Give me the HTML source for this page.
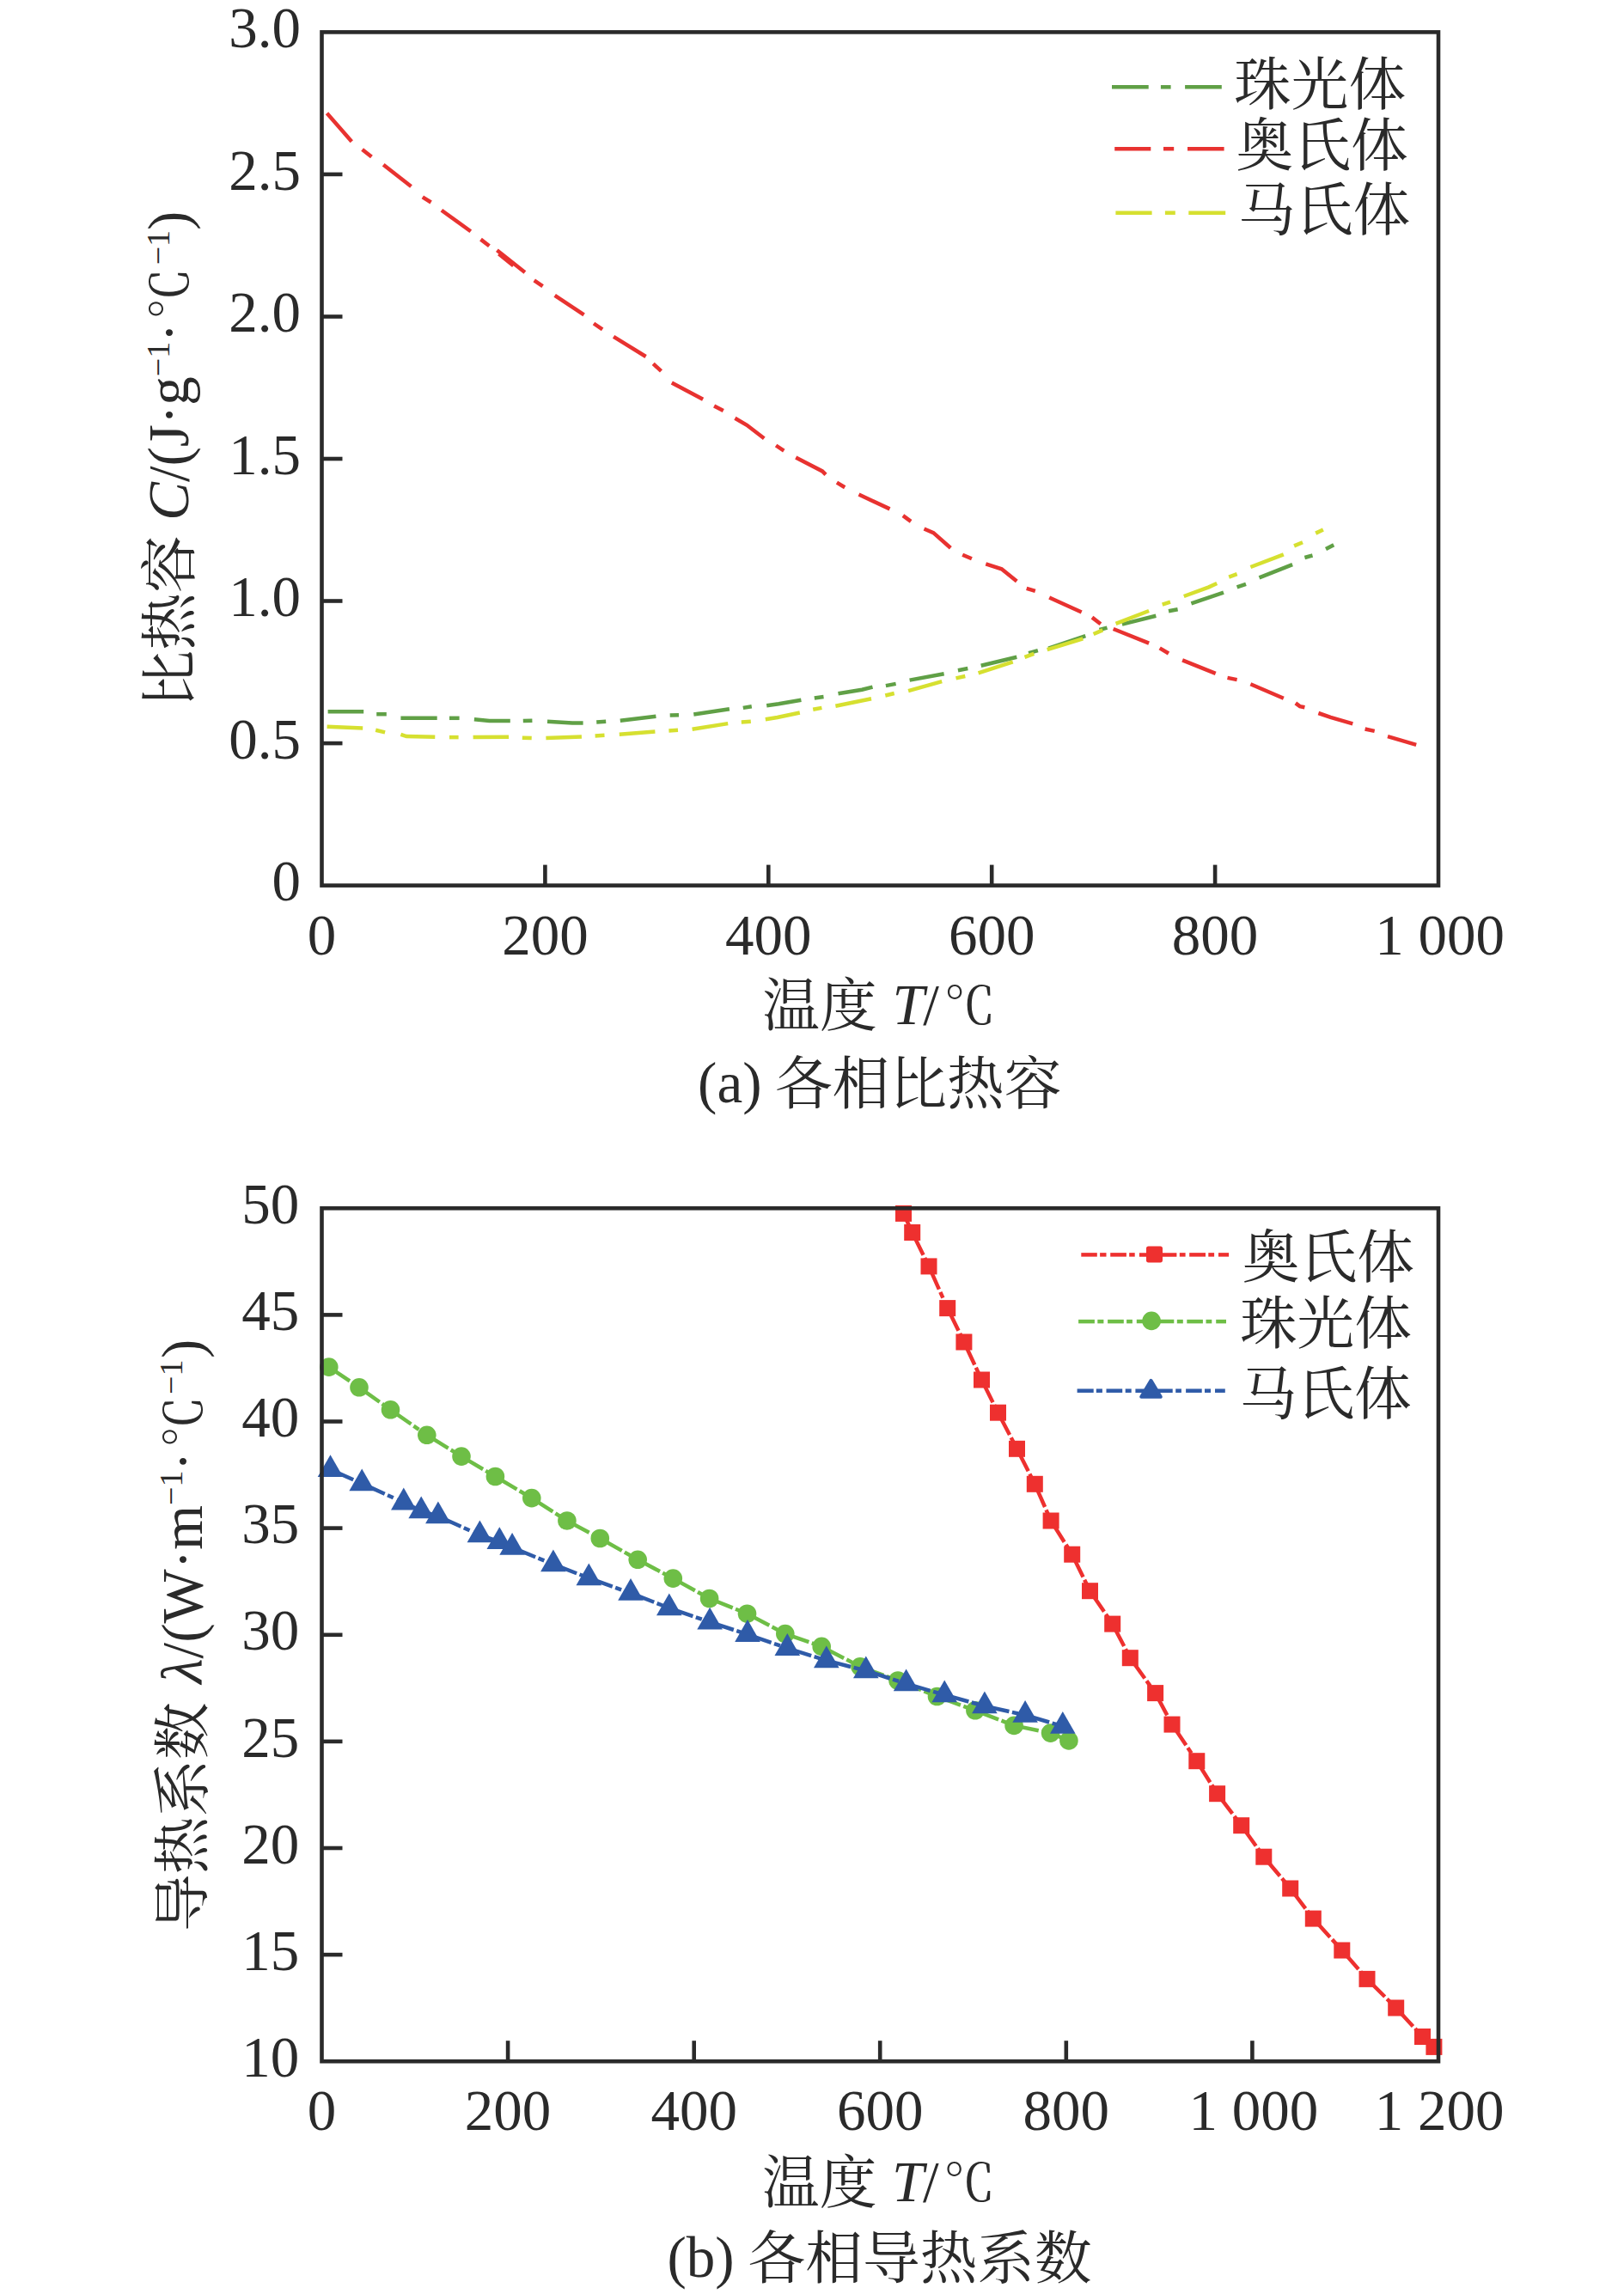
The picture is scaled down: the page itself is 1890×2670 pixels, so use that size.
<!DOCTYPE html>
<html lang="zh"><head><meta charset="utf-8"><title>各相比热容与导热系数</title>
<style>
html,body{margin:0;padding:0;background:#fff;}
svg{display:block;}
text{font-family:"Liberation Serif","Noto Serif CJK SC",serif;fill:#2a2a2a;}
.n{font-size:67px;}
.c{font-family:"Liberation Serif","Noto Serif CJK SC",serif;font-weight:400;}
.i{font-style:italic;}
.s{font-size:38px;}
.c{font-size:66.7px;}
.c.d{font-size:60px;}
.ax{stroke:#2a2a2a;stroke-width:4.6;fill:none;}
.l1{stroke-width:4.5;fill:none;stroke-linecap:butt;stroke-linejoin:miter;}
.l2{stroke-width:4.5;fill:none;stroke-linecap:butt;stroke-dasharray:29.2 3.6 7.4 4.7 18.6 3.3;}
.lg{stroke-width:4.5;fill:none;}
</style></head><body>
<svg width="1890" height="2670" viewBox="0 0 1890 2670">
<rect x="0" y="0" width="1890" height="2670" fill="#fff"/>
<g id="plot-a">
<g class="l1" stroke="#60a046">
<polyline points="381.6,828.2 423.2,828.2"/>
<polyline points="438.2,831.2 449.8,831.2"/>
<polyline points="466.4,835.8 508.7,835.8"/>
<polyline points="523,835.8 534.6,835.8"/>
<polyline points="551.9,837.2 569.5,839.1 593.8,839.1"/>
<polyline points="608.8,839.1 619.4,838.8"/>
<polyline points="637,839.8 666,841.5 678.6,841.5"/>
<polyline points="694.2,840.5 705.2,839.8"/>
<polyline points="721.8,838.8 763.4,833.8"/>
<polyline points="779.7,832.5 790,832.2"/>
<polyline points="807.3,831.5 848.9,825.2"/>
<polyline points="864.8,823.9 874.8,822.2"/>
<polyline points="892.2,821.3 906.2,819.3 932.4,814.7"/>
<polyline points="947.8,812.5 958.5,811"/>
<polyline points="975.5,807.3 1003.2,802.7 1015.5,799.6"/>
<polyline points="1030.9,798.1 1042.6,795.9"/>
<polyline points="1058.6,791.6 1098.6,784.2"/>
<polyline points="1114.9,780.2 1126.3,778"/>
<polyline points="1141.7,774.7 1183.3,764.8"/>
<polyline points="1197.1,760.2 1207.9,757.1"/>
<polyline points="1220.2,754.7 1263.3,740.2"/>
<polyline points="1279.5,733 1288.5,730.6"/>
<polyline points="1305.9,726.6 1345.3,716.7"/>
<polyline points="1360,711.3 1370.6,709.3"/>
<polyline points="1386.4,702.4 1424,689.6"/>
<polyline points="1439.6,683.4 1450,679.8"/>
<polyline points="1465.5,672.4 1504.1,657.1"/>
<polyline points="1518.4,649 1527.5,646.5"/>
<polyline points="1543,639.1 1552.2,634.2"/>
</g>
<g class="l1" stroke="#e83230">
<polyline points="380.5,131.8 409.3,164.7"/>
<polyline points="421.6,173.9 432.4,182.5"/>
<polyline points="446.2,191.7 478.5,217"/>
<polyline points="491.8,229.3 501.6,235.5"/>
<polyline points="513.9,244.7 547.8,269.3"/>
<polyline points="559.5,278.6 569.4,286.3"/>
<polyline points="578.4,291.3 610.9,317"/>
<polyline points="580.5,295.5 597.5,309.3"/>
<polyline points="621.7,326.3 631.6,333.1"/>
<polyline points="645.7,343.8 679.6,366.3"/>
<polyline points="691,376.5 701.1,383.3"/>
<polyline points="714.1,391.9 751.6,415"/>
<polyline points="760.2,423.3 769.5,431.9"/>
<polyline points="781.8,445.4 818.1,464.8"/>
<polyline points="831.1,472.5 841.8,478.1"/>
<polyline points="855.4,486.8 869.2,494.8 889.3,510.2"/>
<polyline points="903.1,518.5 912.3,524.7"/>
<polyline points="926.2,532.4 957,548.4 961,552.4"/>
<polyline points="973.9,561.6 983.2,567.2"/>
<polyline points="999.5,575.5 1035.5,592.4"/>
<polyline points="1050.9,600.1 1060.1,606.9"/>
<polyline points="1075.5,615.5 1086.3,620.1 1106.3,637.7"/>
<polyline points="1120.2,645.7 1130.9,650.3"/>
<polyline points="1147.3,656.4 1165.7,662.3 1183.3,676.5"/>
<polyline points="1194.7,684.8 1204.8,687.8"/>
<polyline points="1221.2,695.5 1258.7,712.5"/>
<polyline points="1271,718.6 1280.9,726.3"/>
<polyline points="1295.7,732 1337.1,748.7"/>
<polyline points="1349.7,754.4 1360,760.5"/>
<polyline points="1376.1,768.4 1414.7,783.9"/>
<polyline points="1428.5,788.9 1439.6,791.1"/>
<polyline points="1455.4,796.3 1493.8,812.8"/>
<polyline points="1507.8,818.4 1512.8,822.1 1518.4,823.3"/>
<polyline points="1534.4,830 1548.5,834.9 1574.3,842.3"/>
<polyline points="1588.6,848.5 1599.7,850.9"/>
<polyline points="1615,857.1 1648.2,866.9"/>
</g>
<g class="l1" stroke="#d6e030">
<polyline points="380.6,845.8 422.2,847.5"/>
<polyline points="437.2,849.8 448.1,852.4"/>
<polyline points="466.4,854.8 473.1,857.1 506.3,857.8"/>
<polyline points="523,858.1 533.6,858.1"/>
<polyline points="550.6,858.1 592.1,857.8"/>
<polyline points="607.8,858.8 618.7,859.1"/>
<polyline points="635.4,859.1 676.9,857.4"/>
<polyline points="692.6,856.4 703.5,855.8"/>
<polyline points="720.8,854.8 762.4,851.5"/>
<polyline points="778.4,850.5 789,849.8"/>
<polyline points="805.6,848.8 847.2,842.1"/>
<polyline points="862.8,840.5 873.8,839.8"/>
<polyline points="890.8,837.2 904.7,835 930.8,829.5"/>
<polyline points="946.2,825.8 956.4,823.9"/>
<polyline points="972.4,821.8 1014,813.2"/>
<polyline points="1030.3,809.5 1040.7,807"/>
<polyline points="1057.1,804.2 1096.2,793.1"/>
<polyline points="1112.5,789.4 1123.3,787"/>
<polyline points="1138.6,783.3 1178.7,770.4"/>
<polyline points="1192.5,764.8 1203.3,760.8"/>
<polyline points="1218.7,756.2 1260.3,743.3"/>
<polyline points="1272.6,738 1283.3,733.4"/>
<polyline points="1298.6,725.8 1337.1,711"/>
<polyline points="1352.7,703.6 1362,700.7"/>
<polyline points="1377.8,694 1406.8,683.4 1416.2,679"/>
<polyline points="1430.2,671.6 1439.6,668.2"/>
<polyline points="1455.4,660 1493.8,645.3"/>
<polyline points="1506.1,635.4 1516,631.2"/>
<polyline points="1531.2,620.6 1539.9,616.5"/>
</g>
<g class="l1" stroke="#60a046">
<line x1="1294" y1="101.3" x2="1336.7" y2="101.3"/>
<line x1="1350.9" y1="101.3" x2="1362.6" y2="101.3"/>
<line x1="1379.1" y1="101.3" x2="1421.8" y2="101.3"/>
</g>
<text class="n c" x="1436" y="121.9">珠光体</text>
<g class="l1" stroke="#e83230">
<line x1="1297.2" y1="173.2" x2="1339.3" y2="173.2"/>
<line x1="1354" y1="173.2" x2="1366.2" y2="173.2"/>
<line x1="1382" y1="173.2" x2="1424.6" y2="173.2"/>
</g>
<text class="n c" x="1438.5" y="193.4">奥氏体</text>
<g class="l1" stroke="#d6e030">
<line x1="1298.4" y1="247.7" x2="1340.6" y2="247.7"/>
<line x1="1355.9" y1="247.7" x2="1367.8" y2="247.7"/>
<line x1="1383.3" y1="247.7" x2="1426.2" y2="247.7"/>
</g>
<text class="n c" x="1441" y="268">马氏体</text>
<rect class="ax" x="374.5" y="37.4" width="1299.5" height="993.2"/>
<text class="n" text-anchor="end" x="350" y="55">3.0</text>
<line class="ax" x1="374.5" y1="202.9" x2="398.5" y2="202.9"/>
<text class="n" text-anchor="end" x="350" y="220.5">2.5</text>
<line class="ax" x1="374.5" y1="368.5" x2="398.5" y2="368.5"/>
<text class="n" text-anchor="end" x="350" y="386.1">2.0</text>
<line class="ax" x1="374.5" y1="534" x2="398.5" y2="534"/>
<text class="n" text-anchor="end" x="350" y="551.6">1.5</text>
<line class="ax" x1="374.5" y1="699.5" x2="398.5" y2="699.5"/>
<text class="n" text-anchor="end" x="350" y="717.1">1.0</text>
<line class="ax" x1="374.5" y1="865.1" x2="398.5" y2="865.1"/>
<text class="n" text-anchor="end" x="350" y="882.7">0.5</text>
<text class="n" text-anchor="end" x="350" y="1048.2">0</text>
<text class="n" text-anchor="middle" x="374.5" y="1110.7" style="word-spacing:0px">0</text>
<line class="ax" x1="634.4" y1="1030.6" x2="634.4" y2="1006.6"/>
<text class="n" text-anchor="middle" x="634.4" y="1110.7" style="word-spacing:0px">200</text>
<line class="ax" x1="894.3" y1="1030.6" x2="894.3" y2="1006.6"/>
<text class="n" text-anchor="middle" x="894.3" y="1110.7" style="word-spacing:0px">400</text>
<line class="ax" x1="1154.2" y1="1030.6" x2="1154.2" y2="1006.6"/>
<text class="n" text-anchor="middle" x="1154.2" y="1110.7" style="word-spacing:0px">600</text>
<line class="ax" x1="1414.1" y1="1030.6" x2="1414.1" y2="1006.6"/>
<text class="n" text-anchor="middle" x="1414.1" y="1110.7" style="word-spacing:0px">800</text>
<text class="n" text-anchor="middle" x="1675.5" y="1110.7" style="word-spacing:0px">1 000</text>
<text class="n" y="1192"><tspan class="c" x="887.3" y="1193.8">温度</tspan><tspan class="i" x="1038.4" y="1192">T</tspan><tspan x="1074.2">/</tspan><tspan class="c d" x="1098.4">℃</tspan></text>
<text class="n" x="812.1" y="1283.2">(a)<tspan class="c" x="901.9" y="1285">各相比热容</tspan></text>
<text class="n" transform="translate(219.3,823.5) rotate(-90)"><tspan class="c" x="0" y="1.8">比热容</tspan><tspan class="i" x="217.7" y="0">C</tspan>/(J·g<tspan class="s" dy="-22.4">−1</tspan><tspan x="425.3" dy="22.4">·</tspan><tspan class="c d" x="451.4">℃</tspan><tspan class="s" x="515.2" dy="-22.4">−1</tspan><tspan x="555.5" dy="22.4">)</tspan></text>
</g>
<g id="plot-b">
<g class="l2" stroke="#6ebe46">
<line x1="382.8" y1="1591.1" x2="418" y2="1614.8"/>
<line x1="418" y1="1614.8" x2="454.5" y2="1640.8"/>
<line x1="454.5" y1="1640.8" x2="496.8" y2="1670.3"/>
<line x1="496.8" y1="1670.3" x2="537" y2="1695.1"/>
<line x1="537" y1="1695.1" x2="576.4" y2="1718.5"/>
<line x1="576.4" y1="1718.5" x2="618.8" y2="1743.6"/>
<line x1="618.8" y1="1743.6" x2="659.9" y2="1770"/>
<line x1="659.9" y1="1770" x2="698.3" y2="1790.5"/>
<line x1="698.3" y1="1790.5" x2="742.2" y2="1815.3"/>
<line x1="742.2" y1="1815.3" x2="783.3" y2="1837.1"/>
<line x1="783.3" y1="1837.1" x2="825.6" y2="1860.5"/>
<line x1="825.6" y1="1860.5" x2="869.5" y2="1878.2"/>
<line x1="869.5" y1="1878.2" x2="913.8" y2="1901.6"/>
<line x1="913.8" y1="1901.6" x2="956.2" y2="1916.4"/>
<line x1="956.2" y1="1916.4" x2="1001" y2="1939.8"/>
<line x1="1001" y1="1939.8" x2="1045" y2="1956"/>
<line x1="1045" y1="1956" x2="1090.5" y2="1974.5"/>
<line x1="1090.5" y1="1974.5" x2="1134.9" y2="1990.8"/>
<line x1="1134.9" y1="1990.8" x2="1180.1" y2="2008.4"/>
<line x1="1180.1" y1="2008.4" x2="1222.6" y2="2017.1"/>
<line x1="1222.6" y1="2017.1" x2="1243.9" y2="2025.9"/>
</g>
<g fill="#6ebe46">
<circle cx="382.8" cy="1591.1" r="10.8"/>
<circle cx="418" cy="1614.8" r="10.8"/>
<circle cx="454.5" cy="1640.8" r="10.8"/>
<circle cx="496.8" cy="1670.3" r="10.8"/>
<circle cx="537" cy="1695.1" r="10.8"/>
<circle cx="576.4" cy="1718.5" r="10.8"/>
<circle cx="618.8" cy="1743.6" r="10.8"/>
<circle cx="659.9" cy="1770" r="10.8"/>
<circle cx="698.3" cy="1790.5" r="10.8"/>
<circle cx="742.2" cy="1815.3" r="10.8"/>
<circle cx="783.3" cy="1837.1" r="10.8"/>
<circle cx="825.6" cy="1860.5" r="10.8"/>
<circle cx="869.5" cy="1878.2" r="10.8"/>
<circle cx="913.8" cy="1901.6" r="10.8"/>
<circle cx="956.2" cy="1916.4" r="10.8"/>
<circle cx="1001" cy="1939.8" r="10.8"/>
<circle cx="1045" cy="1956" r="10.8"/>
<circle cx="1090.5" cy="1974.5" r="10.8"/>
<circle cx="1134.9" cy="1990.8" r="10.8"/>
<circle cx="1180.1" cy="2008.4" r="10.8"/>
<circle cx="1222.6" cy="2017.1" r="10.8"/>
<circle cx="1243.9" cy="2025.9" r="10.8"/>
</g>
<g class="l2" stroke="#ee302f">
<line x1="1051.5" y1="1412.4" x2="1061.7" y2="1434.5"/>
<line x1="1061.7" y1="1434.5" x2="1081" y2="1473.9"/>
<line x1="1081" y1="1473.9" x2="1102.7" y2="1522.6"/>
<line x1="1102.7" y1="1522.6" x2="1121.9" y2="1562"/>
<line x1="1121.9" y1="1562" x2="1142.5" y2="1606"/>
<line x1="1142.5" y1="1606" x2="1161.5" y2="1644.2"/>
<line x1="1161.5" y1="1644.2" x2="1183.5" y2="1686.3"/>
<line x1="1183.5" y1="1686.3" x2="1204.3" y2="1727.3"/>
<line x1="1204.3" y1="1727.3" x2="1223.1" y2="1770"/>
<line x1="1223.1" y1="1770" x2="1247.7" y2="1809.2"/>
<line x1="1247.7" y1="1809.2" x2="1268.5" y2="1851.7"/>
<line x1="1268.5" y1="1851.7" x2="1294.7" y2="1890.1"/>
<line x1="1294.7" y1="1890.1" x2="1315.3" y2="1929.7"/>
<line x1="1315.3" y1="1929.7" x2="1344.6" y2="1970.6"/>
<line x1="1344.6" y1="1970.6" x2="1364" y2="2007.1"/>
<line x1="1364" y1="2007.1" x2="1392.8" y2="2049.7"/>
<line x1="1392.8" y1="2049.7" x2="1416.6" y2="2087.7"/>
<line x1="1416.6" y1="2087.7" x2="1444.7" y2="2124.7"/>
<line x1="1444.7" y1="2124.7" x2="1470.8" y2="2161.2"/>
<line x1="1470.8" y1="2161.2" x2="1501.7" y2="2198"/>
<line x1="1501.7" y1="2198" x2="1528.3" y2="2233.1"/>
<line x1="1528.3" y1="2233.1" x2="1561.8" y2="2270"/>
<line x1="1561.8" y1="2270" x2="1591" y2="2303.4"/>
<line x1="1591" y1="2303.4" x2="1624.7" y2="2337"/>
<line x1="1624.7" y1="2337" x2="1655.5" y2="2370.5"/>
<line x1="1655.5" y1="2370.5" x2="1668.9" y2="2382.4"/>
</g>
<g fill="#ee302f">
<rect x="1042" y="1402.9" width="19" height="19"/>
<rect x="1052.2" y="1425" width="19" height="19"/>
<rect x="1071.5" y="1464.4" width="19" height="19"/>
<rect x="1093.2" y="1513.1" width="19" height="19"/>
<rect x="1112.4" y="1552.5" width="19" height="19"/>
<rect x="1133" y="1596.5" width="19" height="19"/>
<rect x="1152" y="1634.7" width="19" height="19"/>
<rect x="1174" y="1676.8" width="19" height="19"/>
<rect x="1194.8" y="1717.8" width="19" height="19"/>
<rect x="1213.6" y="1760.5" width="19" height="19"/>
<rect x="1238.2" y="1799.7" width="19" height="19"/>
<rect x="1259" y="1842.2" width="19" height="19"/>
<rect x="1285.2" y="1880.6" width="19" height="19"/>
<rect x="1305.8" y="1920.2" width="19" height="19"/>
<rect x="1335.1" y="1961.1" width="19" height="19"/>
<rect x="1354.5" y="1997.6" width="19" height="19"/>
<rect x="1383.3" y="2040.2" width="19" height="19"/>
<rect x="1407.1" y="2078.2" width="19" height="19"/>
<rect x="1435.2" y="2115.2" width="19" height="19"/>
<rect x="1461.3" y="2151.7" width="19" height="19"/>
<rect x="1492.2" y="2188.5" width="19" height="19"/>
<rect x="1518.8" y="2223.6" width="19" height="19"/>
<rect x="1552.3" y="2260.5" width="19" height="19"/>
<rect x="1581.5" y="2293.9" width="19" height="19"/>
<rect x="1615.2" y="2327.5" width="19" height="19"/>
<rect x="1646" y="2361" width="19" height="19"/>
<rect x="1659.4" y="2372.9" width="19" height="19"/>
</g>
<g class="l2" stroke="#2f5ba8">
<line x1="384.5" y1="1710.4" x2="421.2" y2="1726.6"/>
<line x1="421.2" y1="1726.6" x2="469.8" y2="1748.8"/>
<line x1="469.8" y1="1748.8" x2="490.2" y2="1758.6"/>
<line x1="490.2" y1="1758.6" x2="509.9" y2="1764.7"/>
<line x1="509.9" y1="1764.7" x2="558.4" y2="1786.6"/>
<line x1="558.4" y1="1786.6" x2="581.3" y2="1794.4"/>
<line x1="581.3" y1="1794.4" x2="596.1" y2="1801.2"/>
<line x1="596.1" y1="1801.2" x2="643.9" y2="1820.7"/>
<line x1="643.9" y1="1820.7" x2="685.3" y2="1836.7"/>
<line x1="685.3" y1="1836.7" x2="734" y2="1854.2"/>
<line x1="734" y1="1854.2" x2="778.8" y2="1871.6"/>
<line x1="778.8" y1="1871.6" x2="826.1" y2="1887.9"/>
<line x1="826.1" y1="1887.9" x2="870" y2="1902.3"/>
<line x1="870" y1="1902.3" x2="916.3" y2="1918.3"/>
<line x1="916.3" y1="1918.3" x2="961.8" y2="1932.6"/>
<line x1="961.8" y1="1932.6" x2="1007.8" y2="1944.6"/>
<line x1="1007.8" y1="1944.6" x2="1054.6" y2="1959.6"/>
<line x1="1054.6" y1="1959.6" x2="1099.2" y2="1972.7"/>
<line x1="1099.2" y1="1972.7" x2="1145.9" y2="1985.7"/>
<line x1="1145.9" y1="1985.7" x2="1193.1" y2="1996.2"/>
<line x1="1193.1" y1="1996.2" x2="1236.8" y2="2009.2"/>
</g>
<g fill="#2f5ba8">
<polygon points="384.5,1693.2 399.3,1719 369.7,1719"/>
<polygon points="421.2,1709.4 436,1735.2 406.4,1735.2"/>
<polygon points="469.8,1731.6 484.6,1757.4 455,1757.4"/>
<polygon points="490.2,1741.4 505,1767.2 475.4,1767.2"/>
<polygon points="509.9,1747.5 524.7,1773.3 495.1,1773.3"/>
<polygon points="558.4,1769.4 573.2,1795.2 543.6,1795.2"/>
<polygon points="581.3,1777.2 596.1,1803 566.5,1803"/>
<polygon points="596.1,1784 610.9,1809.8 581.3,1809.8"/>
<polygon points="643.9,1803.5 658.7,1829.3 629.1,1829.3"/>
<polygon points="685.3,1819.5 700.1,1845.3 670.5,1845.3"/>
<polygon points="734,1837 748.8,1862.8 719.2,1862.8"/>
<polygon points="778.8,1854.4 793.6,1880.2 764,1880.2"/>
<polygon points="826.1,1870.7 840.9,1896.5 811.3,1896.5"/>
<polygon points="870,1885.1 884.8,1910.9 855.2,1910.9"/>
<polygon points="916.3,1901.1 931.1,1926.9 901.5,1926.9"/>
<polygon points="961.8,1915.4 976.6,1941.2 947,1941.2"/>
<polygon points="1007.8,1927.4 1022.6,1953.2 993,1953.2"/>
<polygon points="1054.6,1942.4 1069.4,1968.2 1039.8,1968.2"/>
<polygon points="1099.2,1955.5 1114,1981.3 1084.4,1981.3"/>
<polygon points="1145.9,1968.5 1160.7,1994.3 1131.1,1994.3"/>
<polygon points="1193.1,1979 1207.9,2004.8 1178.3,2004.8"/>
<polygon points="1236.8,1992 1251.6,2017.8 1222,2017.8"/>
</g>
<g class="lg" stroke="#ee302f">
<line x1="1258.3" y1="1460.4" x2="1276.8" y2="1460.4"/>
<line x1="1280.1" y1="1460.4" x2="1287.5" y2="1460.4"/>
<line x1="1292.2" y1="1460.4" x2="1310.9" y2="1460.4"/>
<line x1="1314.2" y1="1460.4" x2="1320.7" y2="1460.4"/>
<line x1="1325.9" y1="1460.4" x2="1369.4" y2="1460.4"/>
<line x1="1372.8" y1="1460.4" x2="1379.6" y2="1460.4"/>
<line x1="1384.2" y1="1460.4" x2="1403" y2="1460.4"/>
<line x1="1406.3" y1="1460.4" x2="1413.1" y2="1460.4"/>
<line x1="1418" y1="1460.4" x2="1430.1" y2="1460.4"/>
</g>
<rect x="1334" y="1450.4" width="19" height="19" rx="2.6" fill="#ee302f"/>
<text class="n c" x="1445.8" y="1487.1">奥氏体</text>
<g class="lg" stroke="#6ebe46">
<line x1="1255.1" y1="1538.1" x2="1273.9" y2="1538.1"/>
<line x1="1277.3" y1="1538.1" x2="1284.4" y2="1538.1"/>
<line x1="1289.1" y1="1538.1" x2="1307.8" y2="1538.1"/>
<line x1="1311.1" y1="1538.1" x2="1317.9" y2="1538.1"/>
<line x1="1322.8" y1="1538.1" x2="1366.3" y2="1538.1"/>
<line x1="1369.8" y1="1538.1" x2="1376.8" y2="1538.1"/>
<line x1="1381.3" y1="1538.1" x2="1399.9" y2="1538.1"/>
<line x1="1403.5" y1="1538.1" x2="1410.3" y2="1538.1"/>
<line x1="1415.2" y1="1538.1" x2="1427" y2="1538.1"/>
</g>
<circle cx="1340.1" cy="1537.4" r="10.8" fill="#6ebe46"/>
<text class="n c" x="1442.9" y="1564.4">珠光体</text>
<g class="lg" stroke="#2f5ba8">
<line x1="1253.6" y1="1618.7" x2="1272.7" y2="1618.7"/>
<line x1="1275.8" y1="1618.7" x2="1282.9" y2="1618.7"/>
<line x1="1287.5" y1="1618.7" x2="1306.2" y2="1618.7"/>
<line x1="1309.7" y1="1618.7" x2="1316.7" y2="1618.7"/>
<line x1="1321.4" y1="1618.7" x2="1364.7" y2="1618.7"/>
<line x1="1368.2" y1="1618.7" x2="1374.9" y2="1618.7"/>
<line x1="1380.1" y1="1618.7" x2="1398.7" y2="1618.7"/>
<line x1="1402" y1="1618.7" x2="1409" y2="1618.7"/>
<line x1="1414" y1="1618.7" x2="1425.8" y2="1618.7"/>
</g>
<polygon points="1339.5,1606.9 1350.8,1625.7 1328.2,1625.7" fill="#2f5ba8" stroke="#2f5ba8" stroke-width="4" stroke-linejoin="round"/>
<text class="n c" x="1442.7" y="1645.6">马氏体</text>
<rect class="ax" x="374.5" y="1406.3" width="1299.5" height="992.9"/>
<text class="n" text-anchor="end" x="348.3" y="1423.9">50</text>
<line class="ax" x1="374.5" y1="1530.4" x2="398.5" y2="1530.4"/>
<text class="n" text-anchor="end" x="348.3" y="1548">45</text>
<line class="ax" x1="374.5" y1="1654.5" x2="398.5" y2="1654.5"/>
<text class="n" text-anchor="end" x="348.3" y="1672.1">40</text>
<line class="ax" x1="374.5" y1="1778.6" x2="398.5" y2="1778.6"/>
<text class="n" text-anchor="end" x="348.3" y="1796.2">35</text>
<line class="ax" x1="374.5" y1="1902.8" x2="398.5" y2="1902.8"/>
<text class="n" text-anchor="end" x="348.3" y="1920.3">30</text>
<line class="ax" x1="374.5" y1="2026.9" x2="398.5" y2="2026.9"/>
<text class="n" text-anchor="end" x="348.3" y="2044.5">25</text>
<line class="ax" x1="374.5" y1="2151" x2="398.5" y2="2151"/>
<text class="n" text-anchor="end" x="348.3" y="2168.6">20</text>
<line class="ax" x1="374.5" y1="2275.1" x2="398.5" y2="2275.1"/>
<text class="n" text-anchor="end" x="348.3" y="2292.7">15</text>
<text class="n" text-anchor="end" x="348.3" y="2416.8">10</text>
<text class="n" text-anchor="middle" x="374.5" y="2479.3" style="word-spacing:0px">0</text>
<line class="ax" x1="591.1" y1="2399.2" x2="591.1" y2="2375.2"/>
<text class="n" text-anchor="middle" x="591.1" y="2479.3" style="word-spacing:0px">200</text>
<line class="ax" x1="807.7" y1="2399.2" x2="807.7" y2="2375.2"/>
<text class="n" text-anchor="middle" x="807.7" y="2479.3" style="word-spacing:0px">400</text>
<line class="ax" x1="1024.2" y1="2399.2" x2="1024.2" y2="2375.2"/>
<text class="n" text-anchor="middle" x="1024.2" y="2479.3" style="word-spacing:0px">600</text>
<line class="ax" x1="1240.8" y1="2399.2" x2="1240.8" y2="2375.2"/>
<text class="n" text-anchor="middle" x="1240.8" y="2479.3" style="word-spacing:0px">800</text>
<line class="ax" x1="1457.4" y1="2399.2" x2="1457.4" y2="2375.2"/>
<text class="n" text-anchor="middle" x="1458.9" y="2479.3" style="word-spacing:0px">1 000</text>
<text class="n" text-anchor="middle" x="1675" y="2479.3" style="word-spacing:0px">1 200</text>
<text class="n" y="2562"><tspan class="c" x="887" y="2563.8">温度</tspan><tspan class="i" x="1038.1" y="2562">T</tspan><tspan x="1073.9">/</tspan><tspan class="c d" x="1098.1">℃</tspan></text>
<text class="n" x="776.5" y="2650.1">(b)<tspan class="c" x="870.6" y="2651.9">各相导热系数</tspan></text>
<text class="n" transform="translate(234.6,2248) rotate(-90)"><tspan class="c" x="0" y="1.8">导热系数</tspan><tspan class="i" x="288.5" y="0">λ</tspan>/(W·m<tspan class="s" dy="-22.4">−1</tspan><tspan x="536" dy="22.4">·</tspan><tspan class="c d" x="563">℃</tspan><tspan class="s" x="625.1" dy="-22.4">−1</tspan><tspan x="667" dy="22.4">)</tspan></text>
</g>
</svg></body></html>
